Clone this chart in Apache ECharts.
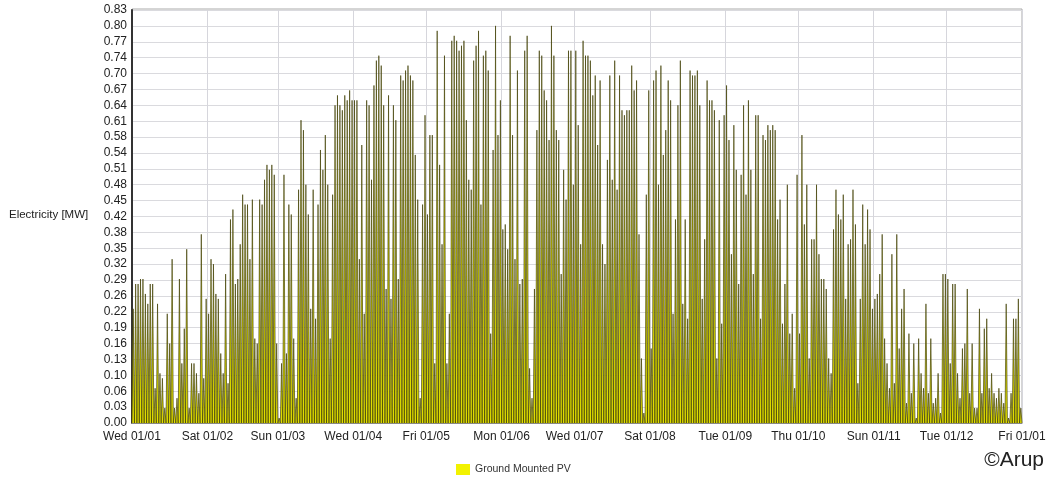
<!DOCTYPE html>
<html>
<head>
<meta charset="utf-8">
<title>Ground Mounted PV</title>
<script src="https://cdn.jsdelivr.net/npm/echarts@6/dist/echarts.min.js"></script>
<style>
  html, body { margin: 0; padding: 0; background: #fff; }
  #chart { width: 1051px; height: 479px; }
</style>
</head>
<body>
<div id="chart"></div>
<script>
// daily peak output [MW], one array per month (2020, leap year)
var peaksJan = [0.23,0.28,0.28,0.29,0.29,0.26,0.24,0.28,0.28,0.07,0.24,0.10,0.09,0.03,0.22,0.16,0.33,0.03,0.05,0.29,0.12,0.19,0.35,0.03,0.12,0.12,0.10,0.06,0.38,0.09,0.25];
var peaksFeb = [0.22,0.33,0.32,0.26,0.25,0.14,0.10,0.30,0.08,0.41,0.43,0.28,0.29,0.36,0.46,0.44,0.44,0.33,0.45,0.17,0.16,0.45,0.44,0.49,0.52,0.51,0.52,0.50,0.16];
var peaksMar = [0.01,0.12,0.50,0.14,0.44,0.42,0.17,0.05,0.47,0.61,0.59,0.48,0.42,0.23,0.47,0.21,0.44,0.55,0.51,0.58,0.48,0.17,0.46,0.64,0.66,0.64,0.63,0.66,0.65,0.67,0.65];
var peaksApr = [0.65,0.65,0.33,0.56,0.22,0.65,0.64,0.49,0.68,0.73,0.74,0.72,0.64,0.27,0.66,0.25,0.64,0.61,0.29,0.70,0.69,0.71,0.72,0.70,0.69,0.54,0.45,0.05,0.44,0.62];
var peaksMay = [0.42,0.58,0.58,0.12,0.79,0.52,0.36,0.74,0.12,0.22,0.77,0.78,0.77,0.75,0.76,0.77,0.61,0.49,0.47,0.73,0.76,0.79,0.44,0.74,0.75,0.71,0.18,0.55,0.80,0.58,0.65];
var peaksJun = [0.39,0.40,0.35,0.78,0.58,0.33,0.71,0.28,0.29,0.75,0.78,0.11,0.05,0.27,0.59,0.75,0.74,0.67,0.65,0.57,0.80,0.74,0.59,0.57,0.30,0.51,0.45,0.75,0.75,0.48];
var peaksJul = [0.75,0.60,0.36,0.77,0.74,0.74,0.73,0.66,0.70,0.56,0.69,0.36,0.32,0.53,0.70,0.49,0.73,0.47,0.70,0.63,0.62,0.63,0.63,0.72,0.67,0.69,0.38,0.13,0.02,0.46,0.67];
var peaksAug = [0.15,0.69,0.71,0.48,0.72,0.54,0.59,0.69,0.65,0.22,0.41,0.64,0.73,0.24,0.41,0.21,0.71,0.70,0.70,0.71,0.64,0.25,0.37,0.69,0.65,0.65,0.63,0.13,0.61,0.20,0.62];
var peaksSep = [0.68,0.57,0.34,0.60,0.51,0.28,0.50,0.64,0.46,0.65,0.51,0.30,0.62,0.62,0.21,0.58,0.57,0.60,0.59,0.60,0.59,0.41,0.45,0.20,0.28,0.48,0.18,0.22,0.07,0.50];
var peaksOct = [0.18,0.58,0.40,0.48,0.13,0.37,0.37,0.48,0.34,0.29,0.29,0.27,0.13,0.10,0.39,0.47,0.42,0.41,0.46,0.25,0.36,0.37,0.47,0.40,0.08,0.25,0.44,0.36,0.43,0.39,0.23];
var peaksNov = [0.25,0.26,0.30,0.38,0.17,0.12,0.07,0.34,0.08,0.38,0.15,0.23,0.27,0.04,0.18,0.06,0.16,0.01,0.17,0.10,0.07,0.24,0.06,0.17,0.04,0.05,0.10,0.02,0.30,0.30];
var peaksDec = [0.29,0.12,0.28,0.28,0.10,0.05,0.15,0.16,0.27,0.06,0.16,0.03,0.03,0.23,0.06,0.19,0.21,0.07,0.10,0.06,0.05,0.07,0.06,0.04,0.24,0.01,0.06,0.21,0.21,0.25,0.03];

// x tick positions (day of year at month starts) and their labels
var monthStarts = [0, 31, 60, 91, 121, 152, 182, 213, 244, 274, 305, 335, 366];
var monthLabels = ['Wed 01/01', 'Sat 01/02', 'Sun 01/03', 'Wed 01/04', 'Fri 01/05', 'Mon 01/06',
  'Wed 01/07', 'Sat 01/08', 'Tue 01/09', 'Thu 01/10', 'Sun 01/11', 'Tue 01/12', 'Fri 01/01'];
var yTickLabels = ['0.00','0.03','0.06','0.10','0.13','0.16','0.19','0.22','0.26','0.29','0.32','0.35','0.38',
  '0.42','0.45','0.48','0.51','0.54','0.58','0.61','0.64','0.67','0.70','0.74','0.77','0.80','0.83'];

var dailyPeaks = [].concat(peaksJan, peaksFeb, peaksMar, peaksApr, peaksMay, peaksJun,
  peaksJul, peaksAug, peaksSep, peaksOct, peaksNov, peaksDec);

// nothing at midnight, the day's peak at noon
var seriesData = [];
dailyPeaks.forEach(function (v, d) {
  seriesData.push([d, 0]);
  seriesData.push([d + 0.5, v]);
});
seriesData.push([dailyPeaks.length, 0]);

var chart = echarts.init(document.getElementById('chart'), null, { renderer: 'canvas' });
chart.setOption({
  animation: false,
  textStyle: { fontFamily: 'Liberation Sans, Arial, sans-serif' },
  grid: { left: 132, right: 29, top: 10, bottom: 56 },
  legend: {
    left: 451, top: 459,
    itemWidth: 14, itemHeight: 11, itemGap: 6,
    textStyle: { fontSize: 10.5, color: '#333' },
    data: [{ name: 'Ground Mounted PV', icon: 'rect', itemStyle: { color: '#f2f200', borderWidth: 0 } }]
  },
  xAxis: {
    type: 'value',
    min: 0, max: 366,
    axisLine: { show: true, lineStyle: { color: '#888', width: 1 } },
    axisTick: { show: false, customValues: monthStarts },
    axisLabel: {
      customValues: monthStarts,
      color: '#222', fontSize: 12, margin: 8,
      formatter: function (v) { return monthLabels[monthStarts.indexOf(v)] || ''; }
    },
    splitLine: { show: true, lineStyle: { color: '#d6d6dc', width: 1 } }
  },
  yAxis: {
    type: 'value',
    min: 0, max: 0.832, interval: 0.032,
    axisLine: { show: true, lineStyle: { color: '#333', width: 2 } },
    axisTick: { show: false },
    axisLabel: {
      color: '#222', fontSize: 12, margin: 5,
      formatter: function (v, i) { return yTickLabels[i]; }
    },
    splitLine: { show: true, lineStyle: { color: '#dadade', width: 1 } }
  },
  graphic: [
    { type: 'rect', shape: { x: 132, y: 9, width: 890, height: 414 }, style: { fill: 'none', stroke: '#aaa', lineWidth: 1 }, z: 0, silent: true },
    { type: 'text', left: 9, top: 209, style: { text: 'Electricity [MW]', fill: '#222', font: '11.5px Liberation Sans, Arial, sans-serif' } },
    { type: 'text', right: 7, top: 450, style: { text: '\u00a9Arup', fill: '#222', font: '21px Liberation Sans, Arial, sans-serif' } }
  ],
  series: [{
    name: 'Ground Mounted PV',
    type: 'line',
    data: seriesData,
    symbol: 'none',
    sampling: null,
    itemStyle: { color: '#f2f200' },
    lineStyle: { color: '#45430a', width: 0.7 },
    areaStyle: { color: '#e0de00', opacity: 1 }
  }]
});
</script>
</body>
</html>
